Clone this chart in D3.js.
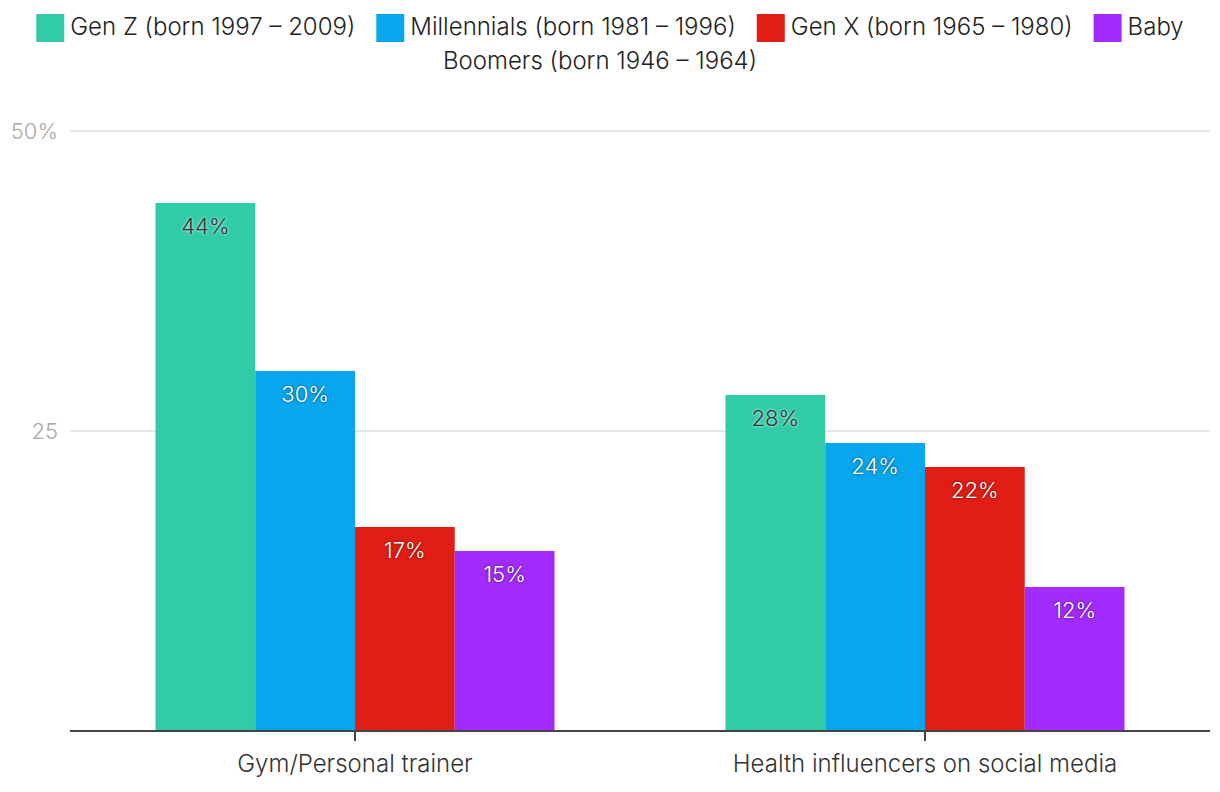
<!DOCTYPE html>
<html>
<head>
<meta charset="utf-8">
<script src="https://cdn.jsdelivr.net/npm/d3@7"></script>
<style>
  body { margin: 0; background: #fff; }
  text { font-family: Inter, "Noto Sans", sans-serif; font-weight: 300; }
</style>
</head>
<body>
<script>
var w = 1220
var h = 792

var categories = ["Gym/Personal trainer", "Health influencers on social media"]
var seriesNames = ["Gen Z (born 1997 – 2009)", "Millennials (born 1981 – 1996)", "Gen X (born 1965 – 1980)", "Baby Boomers (born 1946 – 1964)"]
var seriesColors = ["#31cba8", "#08a6ec", "#e01e15", "#a22bfd"]
var genZ = [44, 28]
var millennials = [30, 24]
var genX = [17, 22]
var boomers = [15, 12]
var yTicks = [25, 50]
var yTickLabels = ["25", "50%"]

var values = [genZ, millennials, genX, boomers]

var margin = { top: 131, right: 10, bottom: 61, left: 70 }

var svg = d3.select("body")
    .append("svg")
    .attr("width", w)
    .attr("height", h)

var x0 = d3.scaleBand()
    .domain(categories)
    .range([margin.left, w - margin.right])
    .paddingInner(0.3)
    .paddingOuter(0.15)

var x1 = d3.scaleBand()
    .domain(d3.range(seriesNames.length))
    .range([0, x0.bandwidth()])

var y = d3.scaleLinear()
    .domain([0, 50])
    .range([h - margin.bottom, margin.top])

// gridlines
svg.selectAll(".grid")
    .data(yTicks)
    .enter()
    .append("line")
    .attr("x1", margin.left)
    .attr("x2", w - margin.right)
    .attr("y1", function(d) { return y(d) })
    .attr("y2", function(d) { return y(d) })
    .style("stroke", "#e6e6e6")
    .style("stroke-width", 2)

svg.selectAll(".ylab")
    .data(yTicks)
    .enter()
    .append("text")
    .attr("x", 58)
    .attr("y", function(d) { return y(d) })
    .attr("dy", "0.35em")
    .attr("text-anchor", "end")
    .style("font-size", "22px")
    .style("fill", "#aaaaaa")
    .text(function(d, i) { return yTickLabels[i] })

// bars
var groups = svg.selectAll(".group")
    .data(categories)
    .enter()
    .append("g")
    .attr("transform", function(d) { return "translate(" + x0(d) + ",0)" })

groups.each(function(cat, ci) {
    var g = d3.select(this)
    var rows = values.map(function(s, si) { return { si: si, v: s[ci] } })
    g.selectAll("rect")
        .data(rows)
        .enter()
        .append("rect")
        .attr("x", function(d) { return x1(d.si) })
        .attr("width", x1.bandwidth())
        .attr("y", function(d) { return y(d.v) })
        .attr("height", function(d) { return y(0) - y(d.v) })
        .style("fill", function(d) { return seriesColors[d.si] })
    g.selectAll("text")
        .data(rows)
        .enter()
        .append("text")
        .attr("x", function(d) { return x1(d.si) + x1.bandwidth() / 2 })
        .attr("y", function(d) { return y(d.v) + 23 })
        .attr("dy", "0.35em")
        .attr("text-anchor", "middle")
        .style("font-size", "22px")
        .style("fill", function(d) { return d.si == 0 ? "#333333" : "#ffffff" })
        .style("text-shadow", function(d) {
            return d.si == 0 ? "0 0 3px #ffffff" : "0 0 3px rgba(0,0,0,0.6)"
        })
        .text(function(d) { return d.v + "%" })
})

// x axis
svg.append("line")
    .attr("x1", margin.left)
    .attr("x2", w - margin.right)
    .attr("y1", y(0))
    .attr("y2", y(0))
    .style("stroke", "#444")
    .style("stroke-width", 2)

svg.selectAll(".xtick")
    .data(categories)
    .enter()
    .append("line")
    .attr("x1", function(d) { return x0(d) + x0.bandwidth() / 2 })
    .attr("x2", function(d) { return x0(d) + x0.bandwidth() / 2 })
    .attr("y1", y(0))
    .attr("y2", y(0) + 10)
    .style("stroke", "#444")
    .style("stroke-width", 2)

svg.selectAll(".xlab")
    .data(categories)
    .enter()
    .append("text")
    .attr("x", function(d) { return x0(d) + x0.bandwidth() / 2 })
    .attr("y", y(0) + 33)
    .attr("dy", "0.35em")
    .attr("text-anchor", "middle")
    .style("font-size", "24px")
    .style("fill", "#333333")
    .text(function(d) { return d })

// legend (last label wraps onto a second line)
var legend = svg.append("g")
var firstLine = seriesNames.slice(0, 3).concat(["Baby"])
var items = legend.selectAll(".item")
    .data(firstLine)
    .enter()
    .append("g")
items.append("rect")
    .attr("width", 28)
    .attr("height", 28)
    .attr("y", 14)
    .style("fill", function(d, i) { return seriesColors[i] })
items.append("text")
    .attr("x", 34)
    .attr("y", 27)
    .attr("dy", "0.35em")
    .style("font-size", "24px")
    .style("fill", "#222")
    .text(function(d) { return d })

var widths = []
items.each(function() { widths.push(this.getBBox().width) })
var gap = 21
var total = d3.sum(widths) + gap * (widths.length - 1)
var cx = (w - total) / 2
items.attr("transform", function(d, i) {
    var xs = cx
    cx += widths[i] + gap
    return "translate(" + xs + ",0)"
})

legend.append("text")
    .attr("x", 600)
    .attr("y", 61)
    .attr("dy", "0.35em")
    .attr("text-anchor", "middle")
    .style("font-size", "24px")
    .style("fill", "#222")
    .text(seriesNames[3].replace("Baby ", ""))
</script>
</body>
</html>
